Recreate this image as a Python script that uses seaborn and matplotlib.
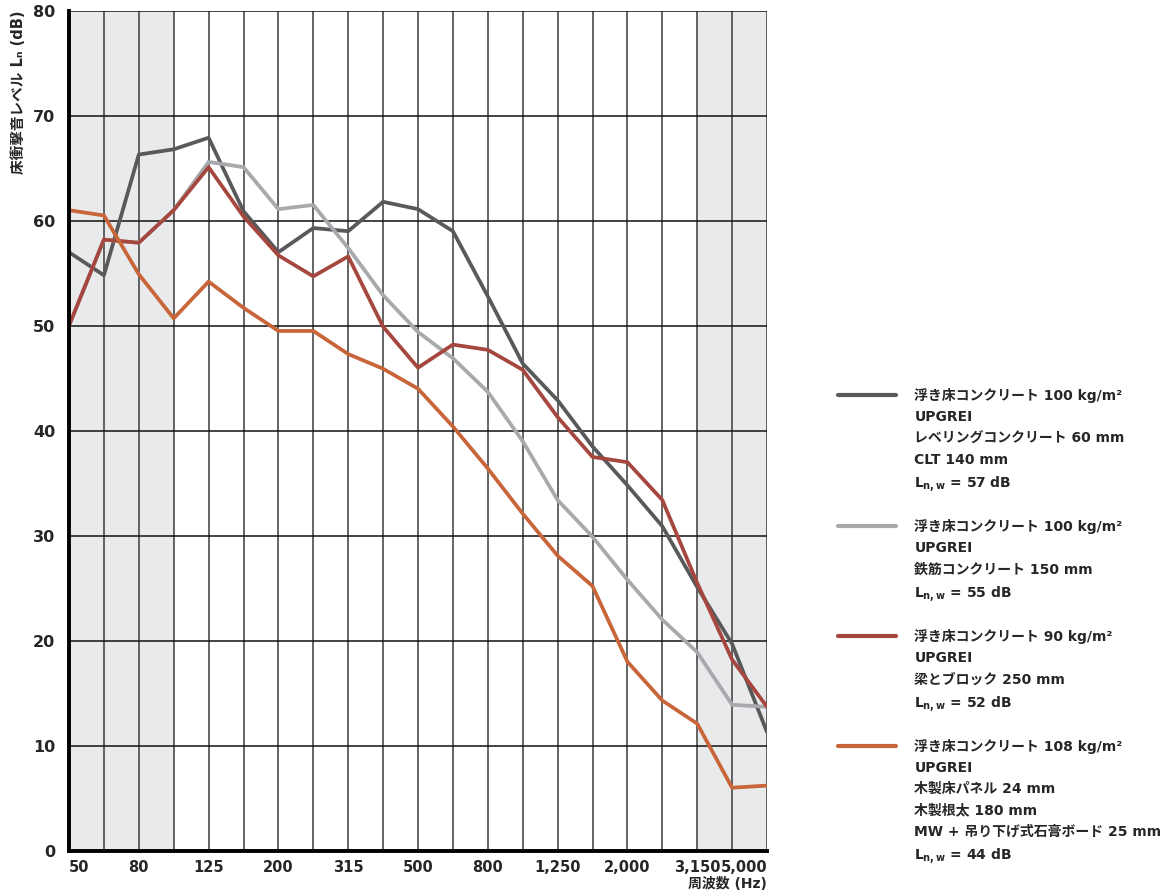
import numpy as np
import pandas as pd
import matplotlib
matplotlib.use("Agg")
import matplotlib.pyplot as plt
from matplotlib.lines import Line2D
import seaborn as sns

freqs = ["50", "63", "80", "100", "125", "160", "200", "250", "315", "400", "500",
         "630", "800", "1000", "1250", "1600", "2000", "2500", "3150", "4000", "5000"]
tick_labels = ["50", "", "80", "", "125", "", "200", "", "315", "", "500", "",
               "800", "", "1,250", "", "2,000", "", "3,150", "", "5,000"]

clt = [57.0, 54.8, 66.3, 66.8, 67.9, 60.9, 57.0, 59.3, 59.0, 61.8, 61.1,
       59.0, 52.8, 46.4, 42.9, 38.5, 34.8, 30.9, 25.1, 19.7, 11.3]
rc = [50.0, 58.2, 57.9, 61.0, 65.6, 65.1, 61.1, 61.5, 57.4, 52.9, 49.4,
      46.9, 43.7, 39.0, 33.4, 29.9, 25.8, 22.0, 18.9, 13.9, 13.7]
block = [50.0, 58.2, 57.9, 61.0, 65.1, 60.4, 56.7, 54.7, 56.6, 49.9, 46.0,
         48.2, 47.7, 45.8, 41.3, 37.5, 37.0, 33.4, 25.5, 18.2, 13.7]
timber = [61.0, 60.5, 54.9, 50.7, 54.2, 51.7, 49.5, 49.5, 47.3, 45.9, 44.0,
          40.4, 36.4, 32.1, 28.1, 25.2, 18.0, 14.3, 12.1, 6.0, 6.2]

series_names = ["CLT", "RC", "Block", "Timber"]
series_values = [clt, rc, block, timber]
colors = ["#58595b", "#a7a9ac", "#a5473f", "#c8663a"]

legend_groups = [
    ["浮き床コンクリート 100 kg/m²", "UPGREI", "レベリングコンクリート 60 mm",
     "CLT 140 mm", r"L$_{\mathregular{n,w}}$ = 57 dB"],
    ["浮き床コンクリート 100 kg/m²", "UPGREI", "鉄筋コンクリート 150 mm",
     r"L$_{\mathregular{n,w}}$ = 55 dB"],
    ["浮き床コンクリート 90 kg/m²", "UPGREI", "梁とブロック 250 mm",
     r"L$_{\mathregular{n,w}}$ = 52 dB"],
    ["浮き床コンクリート 108 kg/m²", "UPGREI", "木製床パネル 24 mm",
     "木製根太 180 mm", "MW + 吊り下げ式石膏ボード 25 mm",
     r"L$_{\mathregular{n,w}}$ = 44 dB"],
]
ylabel = "床衝撃音レベル Lₙ (dB)"
xlabel = "周波数 (Hz)"

sns.set_theme(style="white")
fam = ["DejaVu Sans", "Noto Sans CJK JP"]
plt.rcParams["font.family"] = fam
plt.rcParams["font.weight"] = "bold"
plt.rcParams["mathtext.default"] = "regular"

rows = []
for name, vals in zip(series_names, series_values):
    for i, v in enumerate(vals):
        rows.append({"idx": i, "value": v, "series": name})
df = pd.DataFrame(rows)

fig = plt.figure(figsize=(11.69, 8.93), dpi=100)
ax = fig.add_axes([69 / 1169, 1 - 850.7 / 893, (767 - 69) / 1169, (850.7 - 10.7) / 893])

ax.axvspan(0, 3, color="#e9eaec", zorder=0, lw=0)
ax.axvspan(18, 20, color="#e9eaec", zorder=0, lw=0)

n = len(freqs)
ax.set_xticks(np.arange(n))
ax.set_yticks(np.arange(0, 81, 10))
for i in range(n):
    ax.axvline(i, color="#4a4a4a", lw=1.2, zorder=1)
for y in range(10, 81, 10):
    ax.axhline(y, color="#111111", lw=1.1, zorder=1)

sns.lineplot(data=df, x="idx", y="value", hue="series", hue_order=series_names,
             palette=colors, linewidth=2.7, legend=False, ax=ax, zorder=3,
             estimator=None, sort=False)

ax.set_xlim(0, n - 1)
ax.set_ylim(0, 80)
for s in ["top", "right"]:
    ax.spines[s].set_visible(False)
for s in ["left", "bottom"]:
    ax.spines[s].set_linewidth(2.8)
    ax.spines[s].set_color("black")
    ax.spines[s].set_zorder(5)

ax.set_xticklabels(tick_labels, fontsize=10.5, fontweight="bold", family=fam)
ax.set_yticklabels([str(v) for v in range(0, 81, 10)], fontsize=11.5,
                   fontweight="bold", family=fam)
xl = ax.get_xticklabels()
xl[0].set_ha("left")
xl[-1].set_ha("right")
ax.tick_params(axis="x", length=0, pad=7)
ax.tick_params(axis="y", length=0, pad=10)
ax.set_xlabel(xlabel, loc="right", fontsize=10, fontweight="bold", family=fam, labelpad=1)
ax.set_ylabel(ylabel, loc="top", fontsize=10.5, fontweight="bold", family=fam, labelpad=5)

handles, labels, blank_idx = [], [], []
for gi, (grp, c) in enumerate(zip(legend_groups, colors)):
    for li, txt in enumerate(grp):
        if li == 0:
            handles.append(Line2D([], [], color=c, lw=3))
        else:
            handles.append(Line2D([], [], color="none", lw=0))
        labels.append(txt)
    if gi < len(legend_groups) - 1:
        handles.append(Line2D([], [], color="none", lw=0))
        blank_idx.append(len(labels))
        labels.append(" ")

leg = fig.legend(handles, labels, loc="upper left",
                 bbox_to_anchor=(838 / 1169, 1 - 388 / 893), frameon=False,
                 borderpad=0, borderaxespad=0, handlelength=4.2, handletextpad=1.3,
                 labelspacing=0.52, prop={"family": fam, "weight": "bold", "size": 10})
texts = leg.get_texts()
for k in blank_idx:
    texts[k].set_fontsize(2)

fig.savefig("out.png", dpi=100)
